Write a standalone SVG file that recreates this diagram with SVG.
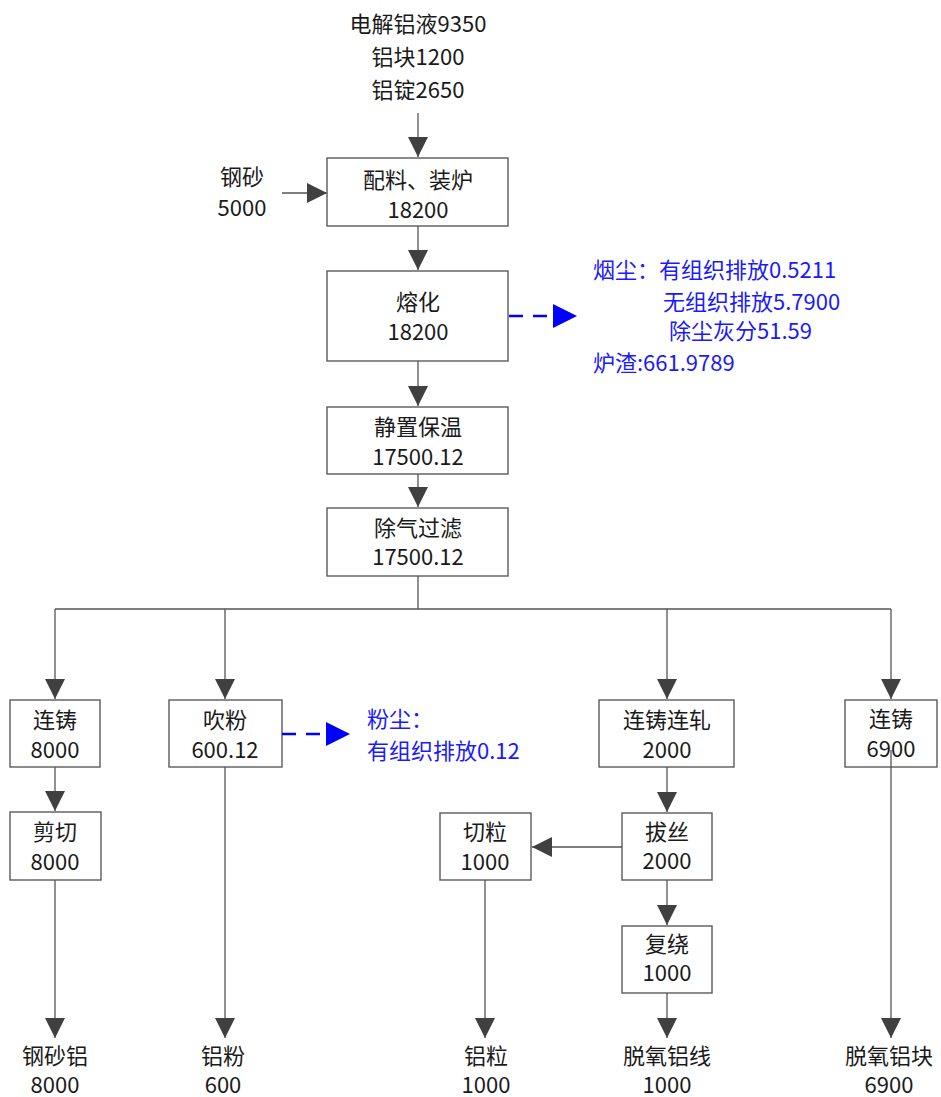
<svg xmlns="http://www.w3.org/2000/svg" width="941" height="1097" viewBox="0 0 941 1097">
<style>
text{font-family:"Noto Sans CJK SC","Liberation Sans",sans-serif;font-size:22px;fill:#1a1a1a}
.c{text-anchor:middle}
.b{fill:#1a1aff}
.box{fill:#fff;stroke:#5a5a5a;stroke-width:1.4}
.ln{fill:none;stroke:#555;stroke-width:1.3}
.ar{marker-end:url(#ah)}
.dash{fill:none;stroke:#0000ff;stroke-width:2.6;stroke-dasharray:14 10;marker-end:url(#bh)}
</style>
<defs>
<marker id="ah" markerUnits="userSpaceOnUse" markerWidth="20" markerHeight="20" refX="20" refY="10" orient="auto" viewBox="0 0 20 20">
<path d="M0,0 L20,10 L0,20 z" fill="#404040"/>
</marker>
<marker id="bh" markerUnits="userSpaceOnUse" markerWidth="24" markerHeight="24" refX="24" refY="12" orient="auto" viewBox="0 0 24 24">
<path d="M0,0 L24,12 L0,24 z" fill="#0000ff"/>
</marker>
</defs>

<g id="inputs">
<text class="c" x="418" y="32">电解铝液9350</text>
<text class="c" x="418" y="65">铝块1200</text>
<text class="c" x="418" y="98">铝锭2650</text>
</g>
<g id="gangsha">
<text class="c" x="242" y="185">钢砂</text>
<text class="c" x="242" y="216">5000</text>
</g>
<g id="n1">
<rect class="box" x="327" y="158" width="181" height="68"/>
<text class="c" x="418" y="188">配料、装炉</text>
<text class="c" x="418" y="218">18200</text>
</g>
<g id="n2">
<rect class="box" x="327" y="271" width="181" height="90"/>
<text class="c" x="418" y="310">熔化</text>
<text class="c" x="418" y="340">18200</text>
</g>
<g id="emis1">
<text class="b" x="593" y="278">烟尘：有组织排放0.5211</text>
<text class="b" x="663" y="310">无组织排放5.7900</text>
<text class="b" x="669" y="339">除尘灰分51.59</text>
<text class="b" x="593" y="371">炉渣:661.9789</text>
</g>
<g id="n3">
<rect class="box" x="327" y="407" width="181" height="67"/>
<text class="c" x="418" y="435">静置保温</text>
<text class="c" x="418" y="465">17500.12</text>
</g>
<g id="n4">
<rect class="box" x="327" y="508" width="181" height="68"/>
<text class="c" x="418" y="536">除气过滤</text>
<text class="c" x="418" y="565">17500.12</text>
</g>
<g id="n5">
<rect class="box" x="10" y="700" width="90" height="67"/>
<text class="c" x="55" y="728">连铸</text>
<text class="c" x="55" y="758">8000</text>
</g>
<g id="n6">
<rect class="box" x="169" y="700" width="113" height="67"/>
<text class="c" x="225" y="728">吹粉</text>
<text class="c" x="225" y="758">600.12</text>
</g>
<g id="emis2">
<text class="b" x="367" y="727">粉尘：</text>
<text class="b" x="367" y="759">有组织排放0.12</text>
</g>
<g id="n7">
<rect class="box" x="599" y="700" width="135" height="67"/>
<text class="c" x="667" y="728">连铸连轧</text>
<text class="c" x="667" y="758">2000</text>
</g>
<g id="n8">
<rect class="box" x="845" y="700" width="92" height="67"/>
<text class="c" x="891" y="727">连铸</text>
<text class="c" x="891" y="757">6900</text>
</g>
<g id="n9">
<rect class="box" x="10" y="812" width="91" height="68"/>
<text class="c" x="55" y="840">剪切</text>
<text class="c" x="55" y="870">8000</text>
</g>
<g id="n10">
<rect class="box" x="440" y="813" width="91" height="67"/>
<text class="c" x="485" y="840">切粒</text>
<text class="c" x="485" y="870">1000</text>
</g>
<g id="n11">
<rect class="box" x="622" y="813" width="90" height="67"/>
<text class="c" x="667" y="840">拔丝</text>
<text class="c" x="667" y="869">2000</text>
</g>
<g id="n12">
<rect class="box" x="622" y="926" width="90" height="67"/>
<text class="c" x="667" y="952">复绕</text>
<text class="c" x="667" y="981">1000</text>
</g>
<g id="outputs">
<text class="c" x="55" y="1064">钢砂铝</text>
<text class="c" x="55" y="1093">8000</text>
<text class="c" x="223" y="1064">铝粉</text>
<text class="c" x="223" y="1093">600</text>
<text class="c" x="486" y="1064">铝粒</text>
<text class="c" x="486" y="1093">1000</text>
<text class="c" x="667" y="1064">脱氧铝线</text>
<text class="c" x="667" y="1093">1000</text>
<text class="c" x="889" y="1064">脱氧铝块</text>
<text class="c" x="889" y="1093">6900</text>
</g>

<g id="connectors">
<path class="ln ar" d="M418,113 V157"/>
<path class="ln ar" d="M282,193 H327"/>
<path class="ln ar" d="M418,226 V270"/>
<path class="ln ar" d="M418,361 V406"/>
<path class="ln ar" d="M418,474 V507"/>
<path class="ln" d="M418,576 V609 M55,609 H891"/>
<path class="ln ar" d="M55,609 V699"/>
<path class="ln ar" d="M225,609 V699"/>
<path class="ln ar" d="M667,609 V699"/>
<path class="ln ar" d="M891,609 V699"/>
<path class="ln ar" d="M55,767 V811"/>
<path class="ln ar" d="M55,880 V1038"/>
<path class="ln ar" d="M225,767 V1038"/>
<path class="ln ar" d="M667,767 V812"/>
<path class="ln ar" d="M622,847 H532"/>
<path class="ln ar" d="M485,880 V1038"/>
<path class="ln ar" d="M667,880 V925"/>
<path class="ln ar" d="M667,993 V1038"/>
<path class="ln ar" d="M891,750 V1038"/>
<path class="dash" d="M509,316 H577"/>
<path class="dash" d="M282,734 H350"/>
</g>
</svg>
